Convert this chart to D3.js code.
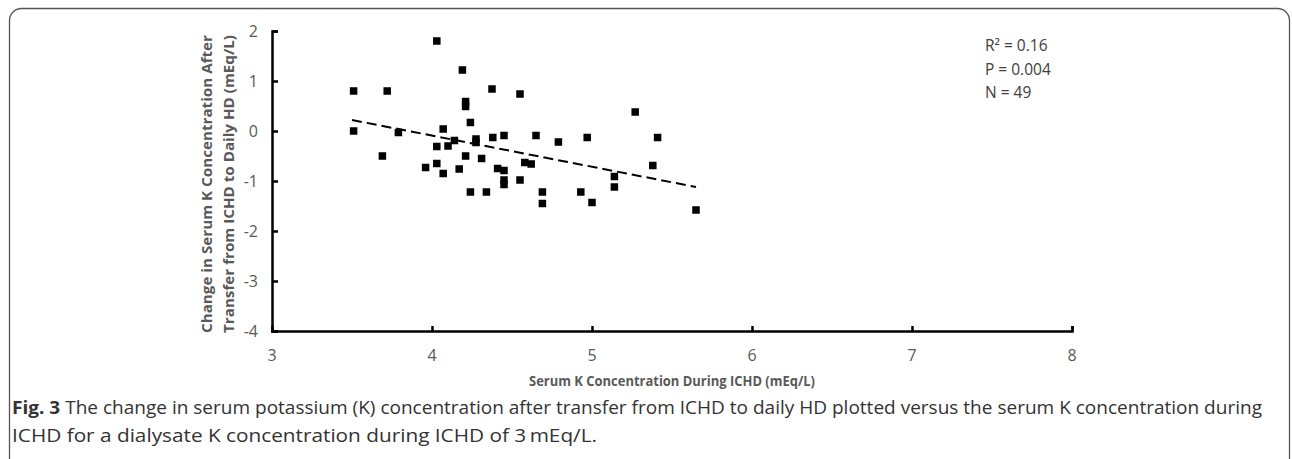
<!DOCTYPE html>
<html>
<head>
<meta charset="utf-8">
<script src="https://cdn.jsdelivr.net/npm/d3@7"></script>
<style>
  body { margin: 0; background: #fff; }
  text { font-family: "Open Sans", sans-serif; }
</style>
</head>
<body>
<div id="chart"></div>
<script>
// data
var serumK = [3.51, 3.72, 3.51, 3.79, 4.03, 4.19, 4.375, 4.21, 4.21, 4.24,
              4.55, 4.07, 4.14, 4.03, 4.10, 4.275, 4.275, 4.38, 4.45, 3.69,
              3.96, 4.03, 4.07, 4.21, 4.31, 4.17, 4.41, 4.45, 4.45, 4.45,
              4.55, 4.24, 4.34, 5.27, 4.65, 4.79, 4.97, 5.41, 4.58, 4.62,
              4.69, 4.69, 4.93, 5.00, 5.14, 5.14, 5.38, 5.65];
var changeK = [0.80, 0.80, 0.00, -0.03, 1.80, 1.22, 0.84, 0.59, 0.49, 0.17,
               0.74, 0.04, -0.19, -0.31, -0.30, -0.16, -0.23, -0.13, -0.09, -0.50,
               -0.73, -0.65, -0.85, -0.50, -0.55, -0.76, -0.75, -0.79, -0.98, -1.07,
               -0.98, -1.22, -1.22, 0.38, -0.09, -0.22, -0.13, -0.13, -0.63, -0.66,
               -1.22, -1.45, -1.22, -1.43, -0.91, -1.12, -0.69, -1.58];
var trendX = [3.5, 5.65];
var trendY = [0.22, -1.12];
var xTicks = [3, 4, 5, 6, 7, 8];
var yTicks = [2, 1, 0, -1, -2, -3, -4];
var statLines = ["R\u00B2 = 0.16", "P = 0.004", "N = 49"];
var yTitleLines = ["Change in Serum K Concentration  After", "Transfer from ICHD to Daily HD (mEq/L)"];
var captionLines = [
  ["Fig. 3", " The change in serum potassium (K) concentration after transfer from ICHD to daily HD plotted versus the serum K concentration during"],
  ["", "ICHD for a dialysate K concentration during ICHD of 3\u2009mEq/L."]
];

var svgWidth = 1292, svgHeight = 459;
var plot = {"left": 272, "right": 1072, "top": 31, "bottom": 331};

var svg = d3.select("#chart").append("svg")
  .attr("width", svgWidth)
  .attr("height", svgHeight);

// frame round the figure
svg.append("rect")
  .attr("x", 9.5).attr("y", 8.5)
  .attr("width", 1280).attr("height", 470)
  .attr("rx", 12).attr("ry", 12)
  .attr("fill", "none")
  .attr("stroke", "#555")
  .attr("stroke-width", 1.3);

var xScale = d3.scaleLinear().domain([3, 8]).range([plot.left, plot.right]);
var yScale = d3.scaleLinear().domain([-4, 2]).range([plot.bottom, plot.top]);

// axes, ticks pointing inward
var xAxis = d3.axisTop(xScale).tickValues(xTicks).tickSize(5).tickFormat("");
var gx = svg.append("g")
  .attr("transform", "translate(0," + plot.bottom + ")")
  .call(xAxis);
gx.selectAll("path, line").attr("stroke", "#000").attr("stroke-width", 2.5);

var yAxis = d3.axisRight(yScale).tickValues(yTicks).tickSize(6).tickFormat("");
var gy = svg.append("g")
  .attr("transform", "translate(" + plot.left + ",0)")
  .call(yAxis);
gy.selectAll("path, line").attr("stroke", "#000").attr("stroke-width", 2.5);

// tick labels
svg.append("g").selectAll("text")
  .data(xTicks)
  .enter().append("text")
  .attr("x", function(d) { return xScale(d); })
  .attr("y", 361)
  .attr("text-anchor", "middle")
  .attr("font-size", 16)
  .attr("fill", "#595959")
  .text(function(d) { return d; });

svg.append("g").selectAll("text")
  .data(yTicks)
  .enter().append("text")
  .attr("x", 258)
  .attr("y", function(d) { return yScale(d) + 6; })
  .attr("text-anchor", "end")
  .attr("font-size", 16)
  .attr("fill", "#595959")
  .text(function(d) { return d; });

// axis titles
svg.append("text")
  .attr("x", 672).attr("y", 386)
  .attr("text-anchor", "middle")
  .attr("font-size", 13.5)
  .attr("font-weight", "bold")
  .attr("fill", "#595959")
  .attr("textLength", 286)
  .attr("lengthAdjust", "spacingAndGlyphs")
  .text("Serum K Concentration  During ICHD (mEq/L)");

svg.append("g")
  .attr("transform", "translate(212,184) rotate(-90)")
  .selectAll("text")
  .data(yTitleLines)
  .enter().append("text")
  .attr("x", 0)
  .attr("y", function(d, i) { return i * 22; })
  .attr("text-anchor", "middle")
  .attr("font-size", 15)
  .attr("font-weight", "bold")
  .attr("fill", "#595959")
  .attr("textLength", 298)
  .attr("lengthAdjust", "spacingAndGlyphs")
  .text(function(d) { return d; });

// trend line
svg.append("line")
  .attr("x1", xScale(trendX[0])).attr("y1", yScale(trendY[0]))
  .attr("x2", xScale(trendX[1])).attr("y2", yScale(trendY[1]))
  .attr("stroke", "#000")
  .attr("stroke-width", 2)
  .attr("stroke-dasharray", "10,5");

// points
var sz = 7.5;
svg.append("g").selectAll("rect")
  .data(serumK)
  .enter().append("rect")
  .attr("x", function(d) { return xScale(d) - sz / 2; })
  .attr("y", function(d, i) { return yScale(changeK[i]) - sz / 2; })
  .attr("width", sz).attr("height", sz)
  .attr("fill", "#000");

// stats box
svg.append("g").selectAll("text")
  .data(statLines)
  .enter().append("text")
  .attr("x", 985)
  .attr("y", function(d, i) { return 51 + i * 23.5; })
  .attr("font-size", 15.5)
  .attr("fill", "#404040")
  .text(function(d) { return d; });

// caption
var captionWidths = [1250, 585];
captionLines.forEach(function(line, i) {
  var t = svg.append("text")
    .attr("x", 12)
    .attr("y", 414 + i * 28)
    .attr("font-size", 18)
    .attr("fill", "#333")
    .attr("textLength", captionWidths[i])
    .attr("lengthAdjust", "spacingAndGlyphs");
  t.append("tspan").attr("font-weight", "bold").text(line[0]);
  t.append("tspan").text(line[1]);
});
</script>
</body>
</html>
